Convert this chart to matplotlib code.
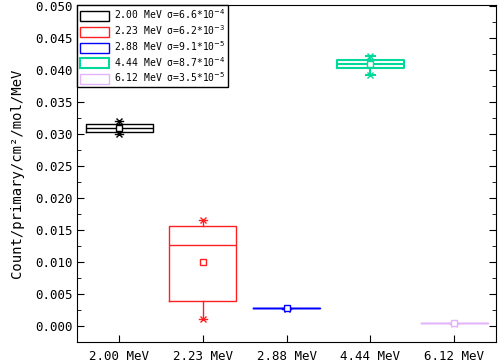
import matplotlib
matplotlib.use('Agg')
import matplotlib.pyplot as plt
from matplotlib.patches import Patch
from matplotlib.ticker import MultipleLocator

# data
labels = ['2.00 MeV', '2.23 MeV', '2.88 MeV', '4.44 MeV', '6.12 MeV']
sigmas = ['6.6*10$^{-4}$', '6.2*10$^{-3}$', '9.1*10$^{-5}$', '8.7*10$^{-4}$', '3.5*10$^{-5}$']
q1 = [0.03042, 0.00391, 0.00277, 0.04038, 0.00042]
med = [0.03105, 0.01272, 0.00277, 0.04105, 0.00042]
q3 = [0.03167, 0.01573, 0.00277, 0.04167, 0.00042]
means = [0.03105, 0.01006, 0.00277, 0.04105, 0.00042]
lows = [0.03006, 0.00105, 0.00272, 0.03933, 0.00040]
highs = [0.03210, 0.01656, 0.00282, 0.04219, 0.00044]

colors = ['black', '#ff2020', '#0000ff', '#00d89c', '#e4b4fa']
widths_lw = [1.0, 1.0, 1.0, 1.5, 1.0]

plt.rcParams['font.family'] = ['DejaVu Sans Mono']
plt.rcParams['mathtext.fontset'] = 'dejavusans'

fig = plt.figure(figsize=(4.98, 3.64), dpi=100)
ax = fig.add_axes([0.155, 0.06, 0.841, 0.926])

for i in range(len(labels)):
    st = [dict(q1=q1[i], med=med[i], q3=q3[i], mean=means[i],
               whislo=lows[i], whishi=highs[i],
               fliers=[lows[i], highs[i]], label=labels[i])]
    c = colors[i]
    lw = widths_lw[i]
    ax.bxp(st, positions=[i + 1], widths=0.8, showmeans=True, showcaps=True,
           capwidths=0.1,
           boxprops=dict(color=c, linewidth=lw),
           medianprops=dict(color=c, linewidth=lw),
           whiskerprops=dict(color=c, linewidth=lw),
           capprops=dict(color=c, linewidth=lw),
           flierprops=dict(marker='x', markeredgecolor=c, markersize=5,
                           markeredgewidth=1),
           meanprops=dict(marker='s', markerfacecolor='white',
                          markeredgecolor=c, markersize=4, markeredgewidth=1))

ax.set_xlim(0.5, 5.5)
ax.set_ylim(-0.0025, 0.0502)
ax.set_xticks(range(1, len(labels) + 1))
ax.set_xticklabels(labels, fontsize=9)
ax.yaxis.set_major_locator(MultipleLocator(0.005))
ax.yaxis.set_minor_locator(MultipleLocator(0.0025))
ax.yaxis.set_major_formatter(plt.FormatStrFormatter('%.3f'))
ax.tick_params(axis='y', which='both', direction='in', right=True, labelsize=9)
ax.tick_params(axis='y', which='major', length=5)
ax.tick_params(axis='y', which='minor', length=3)
ax.tick_params(axis='x', direction='in', length=5, labelsize=9, pad=6)
ax.set_ylabel('Count/primary/cm²/mol/MeV', fontsize=10, labelpad=8)

handles = [Patch(facecolor='none', edgecolor=c, linewidth=lw)
           for c, lw in zip(colors, widths_lw)]
leg_labels = ['%s σ=%s' % (l, s) for l, s in zip(labels, sigmas)]
leg = ax.legend(handles, leg_labels, loc='upper left', borderaxespad=0,
                fancybox=False, edgecolor='black', framealpha=1,
                fontsize=7, handlelength=3.0, handleheight=1.2,
                labelspacing=0.2, borderpad=0.25, handletextpad=0.5)
leg.get_frame().set_linewidth(1.0)

fig.savefig('out.png', dpi=100)
